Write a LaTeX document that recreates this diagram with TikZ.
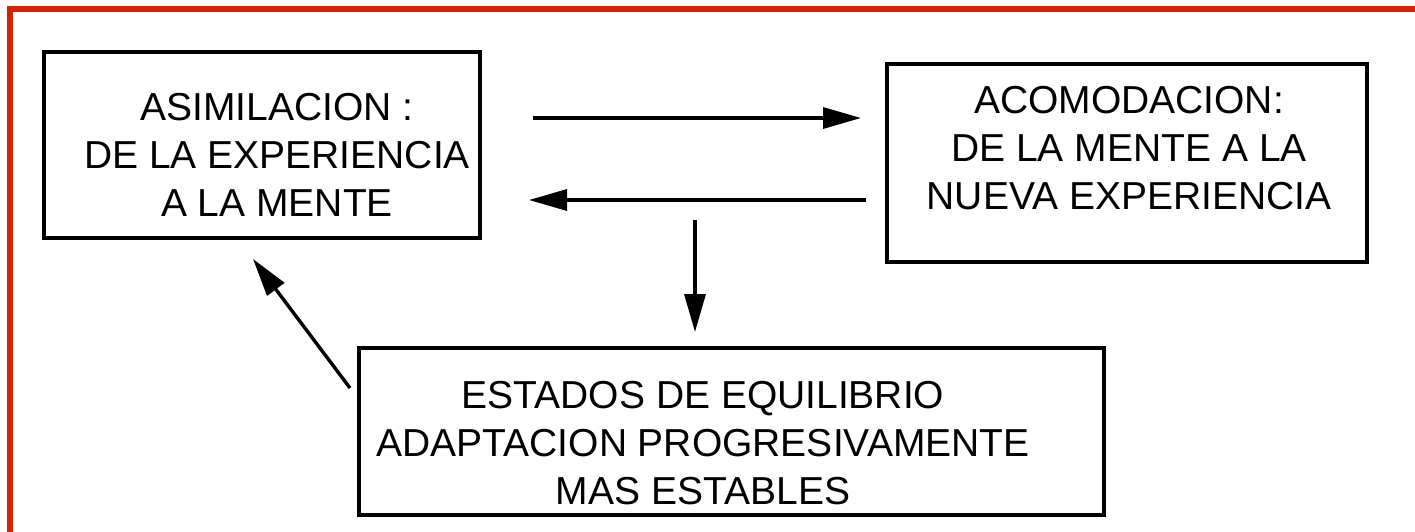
\documentclass[tikz,border=0pt]{standalone}
\usepackage{fontspec}
\setmainfont{Liberation Sans}
\usetikzlibrary{arrows.meta}
\definecolor{marco}{RGB}{210,35,5}
\begin{document}
\begin{tikzpicture}[x=1pt,y=-1pt,
	caja/.style={draw,line width=3.5pt,inner sep=0pt},
	texto/.style={align=center,inner sep=0pt,font=\fontsize{39}{48}\selectfont},
	flecha/.style={line width=3.4pt,-{Triangle[length=38pt,width=21pt]}}]
			\useasboundingbox (0,0) rectangle (1415,532);
			\fill[marco] (7,6) rectangle (1415,12);
			\fill[marco] (7,6) rectangle (13,532);
			\node[caja,minimum width=436pt,minimum height=186pt] (asim) at (262,145) {};
			\node[caja,minimum width=480pt,minimum height=198pt] (acom) at (1127,163) {};
			\node[caja,minimum width=745pt,minimum height=167pt] (equi) at (731.5,431.5) {};
			\node[texto] (asimtxt) at (277,155) {ASIMILACION :\\DE LA EXPERIENCIA\\A LA MENTE};
			\node[texto] (acomtxt) at (1129,148) {ACOMODACION:\\DE LA MENTE A LA\\NUEVA EXPERIENCIA};
			\node[texto] (equitxt) at (703,443) {ESTADOS DE EQUILIBRIO\\ADAPTACION PROGRESIVAMENTE\\MAS ESTABLES};
			\coordinate (ida1) at (533,118);
			\coordinate (ida2) at (861,118);
			\coordinate (vuelta1) at (866,200);
			\coordinate (vuelta2) at (529,200);
			\coordinate (baja1) at (695,220);
			\coordinate (baja2) at (695,332);
			\coordinate (sube1) at (350,388);
			\coordinate (sube2) at (253,259);
			\draw[flecha] (ida1) -- (ida2);
			\draw[flecha] (vuelta1) -- (vuelta2);
			\draw[flecha] (baja1) -- (baja2);
			\draw[flecha] (sube1) -- (sube2);
\end{tikzpicture}
\end{document}
